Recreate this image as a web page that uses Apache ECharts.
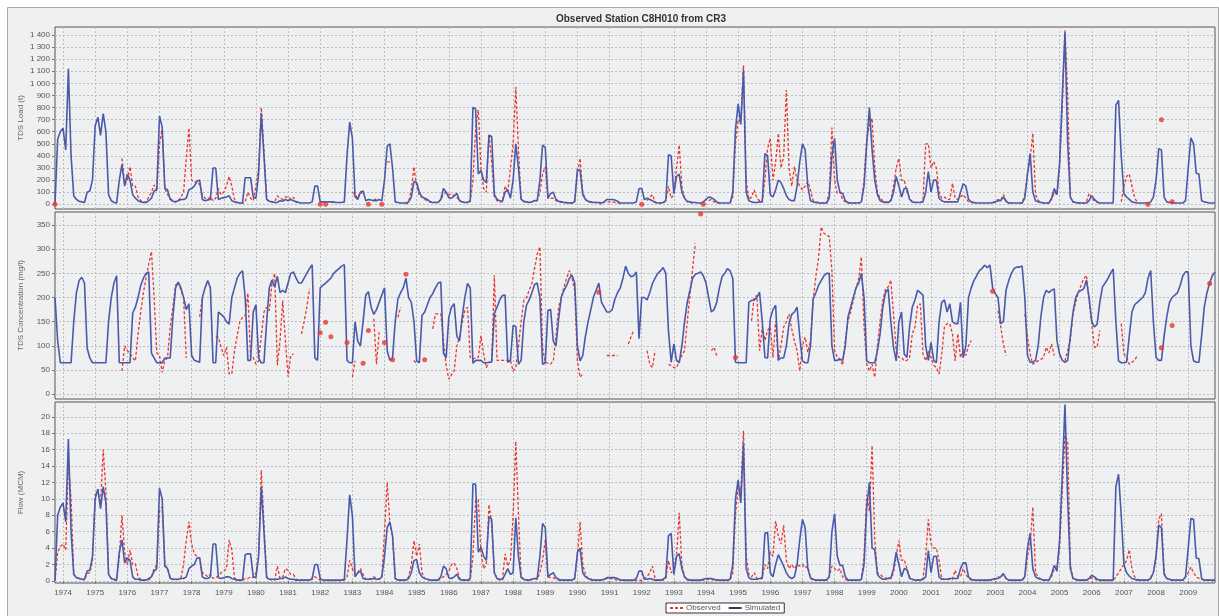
<!DOCTYPE html>
<html><head><meta charset="utf-8">
<script src="https://cdn.jsdelivr.net/npm/echarts@6/dist/echarts.min.js"></script>
<style>html,body{margin:0;padding:0;background:#fff}#c{width:1219px;height:616px}</style>
</head><body><div id="c"></div>
<script>
const _ = null;
// Monthly series, hydrological years Oct..Sep, starting Oct 1973 (last row runs to Nov 2009)
const startYear = 1973, startMonth = 10;
const titleText = 'Observed Station C8H010 from CR3';
const loadTicks = [0,100,200,300,400,500,600,700,800,900,1000,1100,1200,1300,1400];
const concTicks = [0,50,100,150,200,250,300,350];
const flowTicks = [0,2,4,6,8,10,12,14,16,18,20];

const flowSim = [
0.1,8.0,9.0,9.5,7.2,17.3,6.0,0.8,0.4,0.3,0.2,0.2,
1.2,1.3,3.0,10.0,11.2,8.8,11.5,9.5,0.8,0.3,0.2,0.1,
3.5,5.0,2.2,2.8,2.5,0.5,0.2,0.2,0.1,0.1,0.1,0.3,
0.5,1.2,1.5,11.3,10.0,1.8,1.5,0.3,0.2,0.2,0.2,0.3,
0.3,0.5,1.5,1.8,2.0,2.8,2.8,0.5,0.3,0.3,0.5,4.5,
4.5,0.4,0.3,0.4,0.5,0.5,0.3,0.2,0.1,0.1,0.1,3.2,
3.3,3.3,0.5,0.4,3.0,11.5,6.0,0.4,0.2,0.2,0.2,0.2,
0.3,0.3,0.5,0.3,0.2,0.2,0.1,0.1,0.1,0.1,0.1,0.1,
0.3,2.0,2.0,0.3,0.1,0.1,0.1,0.1,0.1,0.1,0.1,0.1,
0.2,5.0,10.5,8.0,0.5,1.0,1.2,0.3,0.2,0.2,0.2,0.3,
0.2,0.2,0.5,3.0,6.5,7.2,5.5,0.3,0.1,0.1,0.1,0.1,
0.3,1.0,2.5,2.6,1.0,0.5,0.3,0.2,0.1,0.1,0.1,0.1,
0.5,1.8,1.5,0.4,0.3,0.5,0.8,0.2,0.1,0.1,0.1,0.3,
11.8,11.8,3.5,4.1,3.0,2.5,7.8,7.5,1.0,0.3,0.2,0.2,
0.8,1.5,0.8,1.0,7.7,3.0,0.4,0.2,0.1,0.1,0.2,0.3,
0.3,3.0,7.0,6.5,0.5,0.8,1.0,0.4,0.2,0.1,0.1,0.1,
0.1,0.1,0.3,3.5,4.0,1.0,0.5,0.3,0.2,0.1,0.1,0.1,
0.1,0.2,0.4,0.4,0.4,0.4,0.3,0.1,0.1,0.1,0.1,0.1,
0.1,0.3,1.2,1.2,0.2,0.2,0.3,0.2,0.1,0.1,0.1,0.2,
0.5,5.5,5.8,0.8,3.0,3.3,1.5,0.5,0.2,0.1,0.1,0.1,
0.1,0.1,0.2,0.3,0.3,0.3,0.2,0.1,0.1,0.1,0.1,0.1,
0.2,2.0,10.0,12.3,9.5,16.8,1.5,0.4,0.2,0.2,0.2,0.3,
0.3,5.8,5.9,1.0,0.5,2.0,3.2,2.5,1.8,1.0,0.5,0.3,
0.5,2.0,5.0,7.5,6.5,1.5,0.4,0.2,0.1,0.1,0.1,0.1,
0.1,0.5,6.0,8.2,3.0,1.9,1.9,0.5,0.1,0.1,0.1,0.1,
0.1,0.2,2.0,9.0,12.0,4.0,3.8,0.8,0.4,0.2,0.2,0.3,
0.3,1.5,3.5,2.0,0.5,1.5,1.4,0.3,0.2,0.1,0.1,0.1,
0.2,0.5,3.7,1.0,3.0,3.0,0.5,0.2,0.2,0.2,0.3,0.3,
0.3,0.3,1.5,2.2,2.2,0.5,0.2,0.1,0.1,0.1,0.1,0.1,
0.1,0.1,0.2,0.3,0.3,0.5,0.9,0.3,0.1,0.1,0.1,0.1,
0.1,0.1,0.5,4.0,5.8,1.5,0.5,0.3,0.2,0.1,0.1,0.1,
0.8,1.9,1.2,5.0,13.0,21.5,10.0,1.5,0.3,0.2,0.1,0.1,
0.1,0.1,0.3,0.7,0.5,0.2,0.1,0.1,0.1,0.1,0.1,0.1,
11.5,13.0,8.0,2.0,1.0,0.6,0.3,0.2,0.1,0.1,0.1,0.1,
0.1,0.3,1.0,3.0,6.8,6.5,0.8,0.3,0.2,0.1,0.1,0.1,
0.1,0.1,0.5,4.0,7.6,7.5,2.8,2.7,0.3,0.1,0.1,0.1,0.1,0.1
];
const flowObs = [
0,3.5,4.2,4.5,3.8,14.5,10.0,0.8,0.5,0.3,0.2,0.1,
0.9,1.0,2.5,10.5,11.0,9.5,16.0,11.0,0.8,0.3,0.1,0.1,
3.0,8.0,3.5,2.0,3.8,2.0,2.1,0.5,0.2,0.1,0.1,0.1,
0.5,1.5,2.0,8.5,9.0,2.0,1.5,0.5,0.2,0.1,0.2,0.3,
2.0,5.0,7.2,4.5,3.3,3.0,2.8,1.0,0.8,0.5,0.8,0.3,
0.4,0.6,1.0,1.2,1.5,5.0,3.8,0.4,0.1,0.1,0.1,0.3,
0.3,0.5,0.4,1.0,3.0,13.5,7.0,0.5,0.2,0.1,0.1,1.8,
0.3,0.5,1.5,1.3,0.8,0.8,0.2,0.1,0.1,0.1,0.1,0.1,
0.2,0.5,0.3,0.1,0.05,0.05,0.05,0.05,0.05,0.05,0.05,0.05,
0.1,0.5,2.5,1.5,0.8,1.0,1.5,0.8,0.2,0.2,0.3,0.5,
0.3,0.2,0.5,6.0,12.0,7.0,5.5,0.3,0.1,0.1,0.1,0.1,
0.5,2.0,4.9,3.0,4.5,1.0,0.3,0.2,0.1,0.1,0.1,0.1,
0.3,0.5,0.8,1.2,2.0,2.2,1.5,0.3,0.1,0.1,0.1,0.1,
3.0,9.8,9.9,3.5,1.5,2.0,9.3,7.0,1.0,0.3,0.1,0.1,
3.3,1.8,2.5,8.0,17.0,8.0,0.5,0.2,0.1,0.1,0.2,0.3,
0.2,1.0,2.5,5.0,0.5,0.4,0.4,0.2,0.1,0.1,0.1,0.1,
0.1,0.1,0.3,3.0,7.2,2.0,0.8,0.3,0.1,0.1,0.1,0.1,
0.1,0.2,0.3,0.3,0.3,0.2,0.1,0.1,0.05,0.05,0.05,0.05,
0.05,0.05,0.1,0.05,0.3,0.5,1.0,1.8,0.3,0.1,0.1,0.1,
0.3,2.5,1.0,1.5,3.0,8.3,2.0,0.5,0.1,0.1,0.05,0.05,
0.05,0.05,0.1,0.2,0.2,0.2,0.1,0.1,0.05,0.05,0.05,0.05,
0.1,1.0,8.0,11.5,11.0,18.3,3.0,0.8,0.5,1.0,0.3,0.2,
0.5,2.0,1.5,3.5,3.0,7.3,5.5,4.5,6.8,2.5,1.5,2.0,
1.5,2.0,1.8,2.0,1.6,1.8,0.3,0.1,0.1,0.1,0.1,0.1,
0.1,0.5,1.8,1.5,1.2,1.5,0.5,0.2,0.1,0.1,0.1,0.1,
0.1,0.2,3.0,10.5,8.5,16.5,5.0,1.0,0.8,0.5,0.3,0.5,
0.3,1.0,3.0,4.9,2.5,2.6,1.5,0.5,0.2,0.1,0.1,0.1,
0.3,3.0,7.5,4.5,4.0,4.0,2.5,0.3,0.2,0.2,0.2,0.2,
1.3,0.5,0.5,1.5,0.8,0.3,0.1,0.1,0.05,0.05,0.05,0.05,
0.05,0.1,0.1,0.2,0.5,0.4,0.8,0.3,0.1,0.05,0.05,0.05,
0.05,0.1,0.5,3.0,4.5,9.0,1.0,0.5,0.2,0.1,0.1,0.1,
0.5,1.5,1.8,4.0,11.0,17.7,17.0,2.0,0.3,0.1,0.1,0.1,
0.05,0.1,0.2,0.4,0.3,0.1,0.05,0.05,0.05,0.05,0.05,0.05,
0.5,1.0,1.5,2.0,2.5,3.8,1.5,0.5,0.2,0.1,0.1,0.1,
0.1,0.5,1.0,3.0,7.5,8.2,1.0,0.3,0.1,0.1,0.1,0.1,
0.05,0.1,0.5,1.0,1.7,1.0,0.5,0.3,0.2,0.1,0.1,0.1,0.05,0.05
];
const loadSim = [
5,540,600,628,450,1120,400,70,40,25,20,15,
100,110,200,650,720,570,750,600,80,30,15,10,
200,330,150,250,200,80,50,30,20,15,15,30,
50,110,120,730,640,130,120,40,25,20,30,40,
40,50,120,130,150,190,200,40,30,35,40,300,
300,40,50,55,60,70,30,20,15,10,10,220,
220,220,60,50,250,750,400,40,25,20,15,15,
30,25,40,30,40,30,20,15,10,10,10,10,
20,150,150,20,20,20,20,20,18,15,15,15,
20,400,680,550,60,40,100,110,30,40,35,30,
30,40,30,200,480,500,300,20,15,10,10,10,
20,60,190,180,100,60,50,40,20,15,15,15,
40,130,100,55,50,70,90,30,20,15,15,30,
800,790,250,280,200,180,570,560,80,40,30,25,
100,120,50,200,500,300,40,25,20,15,20,30,
30,200,490,470,50,90,100,40,25,20,15,15,
10,10,20,290,280,80,40,25,20,15,15,15,
10,20,40,40,40,35,25,10,10,10,10,10,
10,20,130,130,40,50,40,30,15,10,10,15,
30,410,400,90,230,250,100,50,25,20,15,15,
10,10,20,40,60,55,40,20,10,10,10,10,
10,100,620,830,660,1110,100,30,20,15,15,20,
20,420,400,80,60,120,200,180,130,70,40,30,
30,150,350,500,450,150,30,20,15,10,10,10,
10,50,400,546,200,100,90,30,15,10,10,10,
10,20,150,500,800,450,200,80,30,20,15,15,
30,100,229,150,60,130,130,40,20,15,15,15,
20,100,270,100,200,200,50,30,20,20,20,20,
20,20,100,170,150,40,20,15,10,10,10,10,
10,10,15,20,30,30,60,25,10,10,10,10,
10,10,50,250,420,100,30,20,15,10,10,10,
50,130,80,350,900,1420,500,60,20,15,10,10,
10,10,30,70,40,20,10,10,10,10,10,10,
820,860,400,90,60,40,20,15,10,10,10,10,
10,20,60,200,460,450,60,20,15,10,10,10,
10,10,30,300,550,500,256,250,30,20,15,10,10,10
];
const loadObs = [
0,_,_,_,_,_,_,_,_,_,_,_,
_,_,_,_,_,_,_,_,_,_,_,_,
_,380,170,200,310,150,150,60,30,15,20,60,
100,160,110,500,620,130,80,50,30,20,30,60,
100,380,630,200,180,190,160,80,50,40,60,30,
50,130,80,100,150,230,150,40,15,10,10,20,
100,50,30,150,300,800,450,40,25,20,20,70,
50,40,60,65,40,58,20,10,_,_,_,_,
_,_,_,0,_,0,_,20,20,15,_,_,
_,_,_,100,80,50,105,80,_,0,_,40,
40,_,0,_,350,350,_,_,_,_,_,0,
20,120,310,150,70,60,40,30,20,15,15,15,
40,80,100,80,85,70,60,30,20,15,15,20,
200,620,780,300,130,100,580,350,60,30,20,20,
150,100,300,500,970,450,40,20,15,15,20,30,
30,100,250,310,50,50,50,30,20,15,15,10,
10,10,30,250,380,100,40,20,15,15,15,10,
0,20,20,20,20,15,10,10,_,_,_,_,
_,_,_,0,_,30,60,80,20,10,10,10,
30,150,50,80,300,490,150,50,20,15,10,_,
_,_,0,_,30,40,20,10,10,_,_,_,
10,60,500,700,680,1150,200,40,60,118,50,30,
20,200,460,546,200,350,587,300,400,945,300,150,
311,200,150,120,150,187,120,30,20,15,10,10,
10,100,634,200,90,100,40,20,10,10,10,10,
10,20,200,550,650,711,300,100,50,30,20,20,
30,150,300,380,200,200,100,50,20,15,15,15,
30,500,500,300,353,300,100,50,60,40,40,174,
50,40,60,80,50,20,15,10,10,_,_,_,
_,_,10,20,40,35,80,30,10,10,_,_,
10,10,80,250,380,587,80,30,20,10,10,10,
40,100,80,300,800,1440,900,60,20,15,10,10,
10,20,90,50,30,15,10,_,_,_,_,_,
_,_,20,150,229,250,150,50,20,_,_,_,
0,_,_,_,_,700,_,_,_,20,_,_,
_,_,_,_,_,_,_,_,_,_,_,_,_,_
];
const concSim = [
200,110,65,65,65,65,65,150,210,235,242,230,
95,75,65,65,65,65,65,65,150,200,230,245,
65,65,65,65,65,168,180,200,225,240,250,253,
85,75,65,65,65,75,75,75,160,220,232,220,
200,175,187,80,70,68,66,200,220,235,220,65,
65,170,165,160,150,145,200,220,240,250,255,200,
70,70,170,185,75,65,65,150,220,236,222,244,
210,215,210,230,250,253,240,230,230,240,250,260,
268,75,70,220,225,230,235,240,250,255,260,265,
268,70,65,65,150,110,100,150,205,212,180,165,
175,190,205,220,90,70,75,150,197,210,220,240,
200,190,150,69,65,163,170,185,200,208,220,230,
232,85,75,159,180,187,120,110,160,201,229,220,
64,70,70,70,65,65,66,66,168,180,195,204,
205,66,70,142,140,62,70,150,184,195,210,227,
230,200,62,65,173,175,110,100,156,201,215,225,
240,246,230,100,69,80,120,150,175,201,215,230,
190,180,170,170,175,197,210,220,240,265,250,243,
245,253,115,200,200,195,210,229,240,250,255,262,
250,130,66,104,70,65,100,150,190,215,240,248,
250,253,245,230,200,170,175,190,220,243,250,260,
255,240,66,65,65,65,65,190,194,195,200,211,
150,76,75,156,175,184,71,75,75,100,146,165,
170,180,120,69,65,65,100,197,210,225,235,245,
250,250,100,70,70,72,70,100,160,180,200,220,
230,250,200,69,65,65,65,90,125,180,210,218,
150,97,69,150,170,83,76,140,180,195,215,210,
205,100,70,107,70,65,150,190,195,170,187,150,
146,146,190,75,100,200,220,235,245,255,260,267,
262,267,220,208,200,146,150,215,235,250,260,263,
263,265,200,80,66,66,70,100,160,200,215,210,
215,218,111,83,70,66,70,120,170,200,211,215,
218,236,200,150,139,145,190,222,230,239,250,259,
150,69,65,65,66,120,170,185,190,195,200,210,
240,256,150,76,70,70,120,160,190,200,205,210,
225,245,253,253,100,69,66,66,120,180,210,230,245,253
];
const concObs = [
_,_,_,_,_,_,_,_,_,_,_,_,
_,_,_,_,_,_,_,_,_,_,_,_,
_,48,100,90,85,75,69,125,170,210,240,270,
295,200,85,80,45,70,75,140,180,225,232,215,
200,75,_,_,_,_,160,200,_,_,_,_,
118,118,97,80,97,42,42,90,121,150,159,163,
209,76,76,62,69,120,170,180,173,230,250,60,
111,194,111,36,80,83,_,_,125,150,180,218,
_,_,_,127,_,149,_,119,_,_,_,_,
_,107,_,35,69,_,_,64,_,132,_,156,
62,128,_,107,_,_,71,_,159,180,_,248,
_,_,70,62,_,_,71,_,_,135,166,166,
166,111,60,31,40,48,100,118,150,173,180,76,
73,75,76,121,83,55,66,66,246,70,70,70,
70,70,70,48,55,100,150,194,200,215,229,260,
290,305,97,66,64,62,69,120,180,200,222,240,
256,240,215,69,35,42,_,_,_,_,_,211,
_,_,80,80,80,80,80,_,_,_,104,118,
132,_,_,_,_,90,62,55,90,_,_,_,
_,62,59,55,55,69,80,90,150,204,260,312,
_,373,_,_,_,90,97,80,_,_,_,_,
_,_,76,_,_,_,_,_,152,201,204,90,
139,111,132,139,76,152,69,100,139,150,166,135,
110,90,48,100,118,87,111,194,243,281,346,333,
330,326,256,90,76,73,60,111,152,170,194,220,
239,284,140,62,48,62,35,100,152,194,218,222,
236,166,90,76,76,69,70,76,125,139,184,187,
83,69,90,76,60,55,42,83,139,146,146,125,
69,125,76,90,80,100,111,_,_,_,_,_,
_,_,213,_,173,140,104,80,_,_,_,_,
_,_,166,120,83,62,66,69,72,76,97,85,
104,80,_,_,_,69,90,111,166,190,211,225,
239,246,194,146,97,97,132,_,_,_,_,_,
_,_,146,83,76,62,66,70,80,_,_,_,
_,_,_,_,_,96,_,_,_,142,_,_,
_,_,_,_,_,_,_,_,_,_,_,229,_,_
];

// month categories
const months = [];
for (let i = 0; i < flowSim.length; i++) {
  const t = startMonth - 1 + i;
  months.push((startYear + Math.floor(t / 12)) + '-' + String(t % 12 + 1).padStart(2, '0'));
}
const isJan = (idx, val) => String(val).slice(5) === '01';
const isolated = arr => arr.map((v, i) => (v != null && arr[i - 1] == null && arr[i + 1] == null) ? v : null);

const FONT = 'Liberation Sans, Arial, sans-serif';
const SIM = '#4a5aaa', OBS = '#e8372c', GRIDC = '#bcbcbc';
const gridBase = {show: true, left: 55, right: 4, backgroundColor: '#eef0f2', borderColor: '#555', borderWidth: 1};

function xAx(gi, showLabel) {
  return {type: 'category', gridIndex: gi, data: months, boundaryGap: false,
    axisLine: {show: false},
    axisTick: {show: showLabel, interval: isJan, length: 3, lineStyle: {color: '#777'}},
    axisLabel: {show: showLabel, interval: isJan, formatter: v => v.slice(0, 4), fontSize: 8, color: '#555', margin: 6, fontFamily: FONT},
    splitLine: {show: true, interval: isJan, lineStyle: {color: GRIDC, type: [2, 2], width: 1}}};
}
function yAx(gi, min, max, ticks, name, fmt) {
  return {type: 'value', gridIndex: gi, min: min, max: max, name: name, nameLocation: 'middle', nameGap: 30,
    nameMoveOverlap: false,
    nameTextStyle: {fontSize: 8, color: '#666', fontFamily: FONT},
    axisLine: {show: false},
    axisTick: {show: true, length: 3, customValues: ticks, lineStyle: {color: '#777'}},
    axisLabel: {customValues: ticks, fontSize: 8, color: '#555', margin: 5, fontFamily: FONT, formatter: fmt},
    splitLine: {show: true, lineStyle: {color: GRIDC, type: [2, 2], width: 1}}};
}
const thousands = v => String(v).replace(/\B(?=(\d{3})+(?!\d))/g, ' ');
const simLine = (xi, data) => ({type: 'line', name: 'Simulated', xAxisIndex: xi, yAxisIndex: xi, data: data,
  showSymbol: false, symbol: 'none', z: 3, lineStyle: {color: SIM, width: 1.6}, itemStyle: {color: SIM}});
const obsLine = (xi, data) => ({type: 'line', name: 'Observed', xAxisIndex: xi, yAxisIndex: xi, data: data,
  showSymbol: false, symbol: 'none', z: 2, lineStyle: {color: OBS, width: 1.3, type: [3, 2]}, itemStyle: {color: OBS}});
const obsDots = (xi, data) => ({type: 'scatter', name: 'ObservedPoints', xAxisIndex: xi, yAxisIndex: xi, data: isolated(data),
  symbolSize: 5, z: 4, itemStyle: {color: OBS}});

const chart = echarts.init(document.getElementById('c'), null, {renderer: 'canvas'});
chart.setOption({
  animation: false,
  textStyle: {fontFamily: FONT},
  graphic: [{type: 'rect', z: -100, silent: true, shape: {x: 7.5, y: 7.5, width: 1211, height: 610},
    style: {fill: '#eff0f1', stroke: '#a9a9a9', lineWidth: 1}}],
  title: {text: titleText, left: 636, top: 9, textAlign: 'center',
    textStyle: {fontSize: 10, fontWeight: 'bold', color: '#333', fontFamily: FONT}},
  legend: {
    data: [
      {name: 'Observed', icon: 'path://M0,0h3v2h-3z M5,0h3v2h-3z M10,0h3v2h-3z', itemStyle: {color: OBS}},
      {name: 'Simulated', icon: 'path://M0,0h13v2h-13z', itemStyle: {color: '#333a66'}}
    ],
    left: 666, top: 603, itemWidth: 13, itemHeight: 8, itemGap: 8, symbolKeepAspect: true,
    borderColor: '#333', borderWidth: 1, padding: [1, 4], backgroundColor: '#fff',
    textStyle: {fontSize: 8, color: '#555', fontFamily: FONT, padding: [0, 0, 0, -2]}},
  grid: [
    Object.assign({top: 27, height: 182}, gridBase),
    Object.assign({top: 212, height: 187}, gridBase),
    Object.assign({top: 402, height: 181}, gridBase)
  ],
  xAxis: [xAx(0, false), xAx(1, false), xAx(2, true)],
  yAxis: [
    yAx(0, -39, 1466, loadTicks, 'TDS Load (t)', thousands),
    yAx(1, -10, 377, concTicks, 'TDS Concentration (mg/l)', v => String(v)),
    yAx(2, -0.25, 21.8, flowTicks, 'Flow (MCM)', v => String(v))
  ],
  series: [
    obsLine(0, loadObs), simLine(0, loadSim), obsDots(0, loadObs),
    obsLine(1, concObs), simLine(1, concSim), obsDots(1, concObs),
    obsLine(2, flowObs), simLine(2, flowSim), obsDots(2, flowObs)
  ]
});
</script></body></html>
